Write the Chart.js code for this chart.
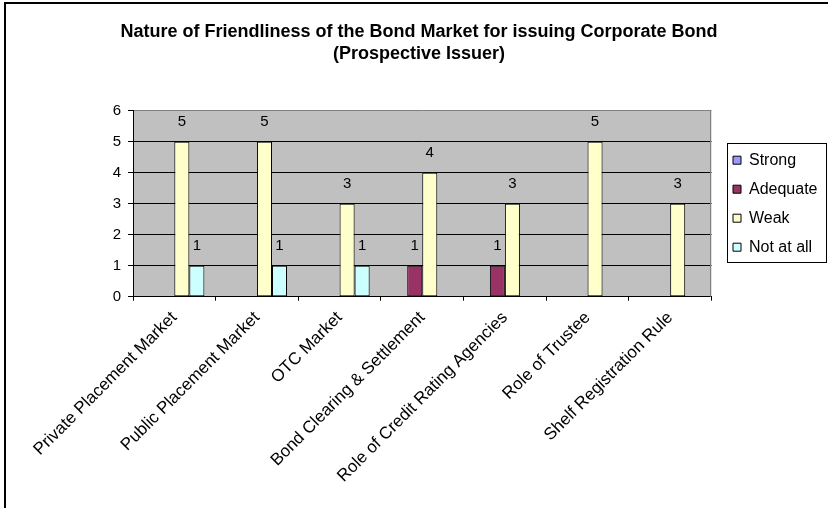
<!DOCTYPE html>
<html>
<head>
<meta charset="utf-8">
<script src="https://cdn.jsdelivr.net/npm/chart.js@4"></script>
<style>
  html, body { margin: 0; padding: 0; background: #fff; }
  #wrap { width: 828px; height: 508px; position: relative; }
</style>
</head>
<body>
<div id="wrap"><canvas id="c" width="828" height="508"></canvas></div>
<script>
// Survey counts per market aspect and rating
const categories = [
  'Private Placement Market',
  'Public Placement Market',
  'OTC Market',
  'Bond Clearing & Settlement',
  'Role of Credit Rating Agencies',
  'Role of Trustee',
  'Shelf Registration Rule'
];
const seriesNames = ['Strong', 'Adequate', 'Weak', 'Not at all'];
const strong   = [0, 0, 0, 0, 0, 0, 0];
const adequate = [0, 0, 0, 1, 1, 0, 0];
const weak     = [5, 5, 3, 4, 3, 5, 3];
const notAtAll = [1, 1, 1, 0, 0, 0, 0];
const yTicks = [0, 1, 2, 3, 4, 5, 6];
const titleLines = [
  'Nature of Friendliness of the Bond Market for issuing Corporate Bond',
  '(Prospective Issuer)'
];

const FONT = "Arial, 'Liberation Sans', sans-serif";
const seriesColors = ['#9999FF', '#993366', '#FFFFCC', '#CCFFFF'];
const seriesData = [strong, adequate, weak, notAtAll];

// Page frame, grey plot background and plot border
const backdrop = {
  id: 'backdrop',
  beforeDraw(chart) {
    const { ctx, chartArea: a } = chart;
    ctx.save();
    ctx.fillStyle = '#fff';
    ctx.fillRect(0, 0, chart.width, chart.height);
    ctx.strokeStyle = '#000';
    ctx.lineWidth = 2;
    ctx.beginPath();
    ctx.moveTo(5, chart.height + 5);
    ctx.lineTo(5, 3);
    ctx.lineTo(chart.width + 5, 3);
    ctx.stroke();
    ctx.fillStyle = '#C0C0C0';
    ctx.fillRect(a.left, a.top, a.right - a.left, a.bottom - a.top);
    ctx.restore();
  },
  beforeDatasetsDraw(chart) {
    const { ctx, chartArea: a } = chart;
    ctx.save();
    ctx.strokeStyle = '#808080';
    ctx.lineWidth = 1;
    ctx.beginPath();
    ctx.moveTo(Math.round(a.right) - 0.5, a.top);
    ctx.lineTo(Math.round(a.right) - 0.5, a.bottom);
    ctx.stroke();
    ctx.restore();
  }
};

// Value labels above each non-zero bar
const valueLabels = {
  id: 'valueLabels',
  afterDatasetsDraw(chart) {
    const { ctx } = chart;
    ctx.save();
    ctx.font = '15px ' + FONT;
    ctx.fillStyle = '#000';
    ctx.textAlign = 'center';
    ctx.textBaseline = 'middle';
    chart.data.datasets.forEach((ds, di) => {
      const meta = chart.getDatasetMeta(di);
      meta.data.forEach((bar, i) => {
        const v = ds.data[i];
        if (!v) return;
        ctx.fillText(String(v), bar.x, bar.y - 20);
      });
    });
    ctx.restore();
  }
};

// Legend placement and its boxed outline
const legendBox = {
  id: 'legendBox',
  afterLayout(chart) {
    const lg = chart.legend;
    const a = chart.chartArea;
    const w = lg.width;
    lg.left = 720;
    lg.right = lg.left + w;
    lg.top = a.top;
    lg.bottom = a.bottom;
    lg.height = a.bottom - a.top;
  },
  afterDraw(chart) {
    const { ctx } = chart;
    ctx.save();
    ctx.strokeStyle = '#000';
    ctx.lineWidth = 1;
    ctx.strokeRect(727.5, 143.5, 99, 119);
    ctx.restore();
  }
};

new Chart(document.getElementById('c'), {
  type: 'bar',
  data: {
    labels: categories,
    datasets: seriesNames.map((name, i) => ({
      label: name,
      data: seriesData[i],
      backgroundColor: seriesColors[i],
      borderColor: '#000',
      borderWidth: 1,
      borderSkipped: false,
      categoryPercentage: 0.727,
      barPercentage: 1.0
    }))
  },
  options: {
    responsive: false,
    devicePixelRatio: 1,
    animation: false,
    layout: { padding: { top: 0, right: 9, bottom: 0, left: 19 } },
    plugins: {
      title: {
        display: true,
        text: titleLines,
        color: '#000',
        font: { family: FONT, size: 18, weight: 'bold', lineHeight: 1.222 },
        padding: { top: 21, bottom: 45.7 }
      },
      legend: {
        display: true,
        position: 'right',
        labels: {
          color: '#000',
          font: { family: FONT, size: 16 },
          boxWidth: 8,
          boxHeight: 8,
          padding: 13
        }
      },
      tooltip: { enabled: false }
    },
    scales: {
      x: {
        type: 'category',
        grid: {
          offset: true,
          drawOnChartArea: false,
          drawTicks: true,
          tickLength: 4,
          color: '#000'
        },
        border: { color: '#000', width: 1 },
        ticks: {
          color: '#000',
          font: { family: FONT, size: 17 },
          minRotation: 45,
          maxRotation: 45,
          autoSkip: false,
          padding: 7
        },
        afterFit(scale) { scale.height = 211.3; }
      },
      y: {
        min: 0,
        max: 6,
        afterBuildTicks(scale) { scale.ticks = yTicks.map(v => ({ value: v })); },
        grid: {
          color: ctx => (ctx.tick && ctx.tick.value === 6 ? '#808080' : '#000'),
          tickColor: '#000',
          tickLength: 5,
          drawTicks: true
        },
        border: { color: '#000', width: 1 },
        ticks: {
          color: '#000',
          font: { family: FONT, size: 15 },
          padding: 7
        },
        afterFit(scale) { scale.width = 114; }
      }
    }
  },
  plugins: [backdrop, valueLabels, legendBox]
});
</script>
</body>
</html>
